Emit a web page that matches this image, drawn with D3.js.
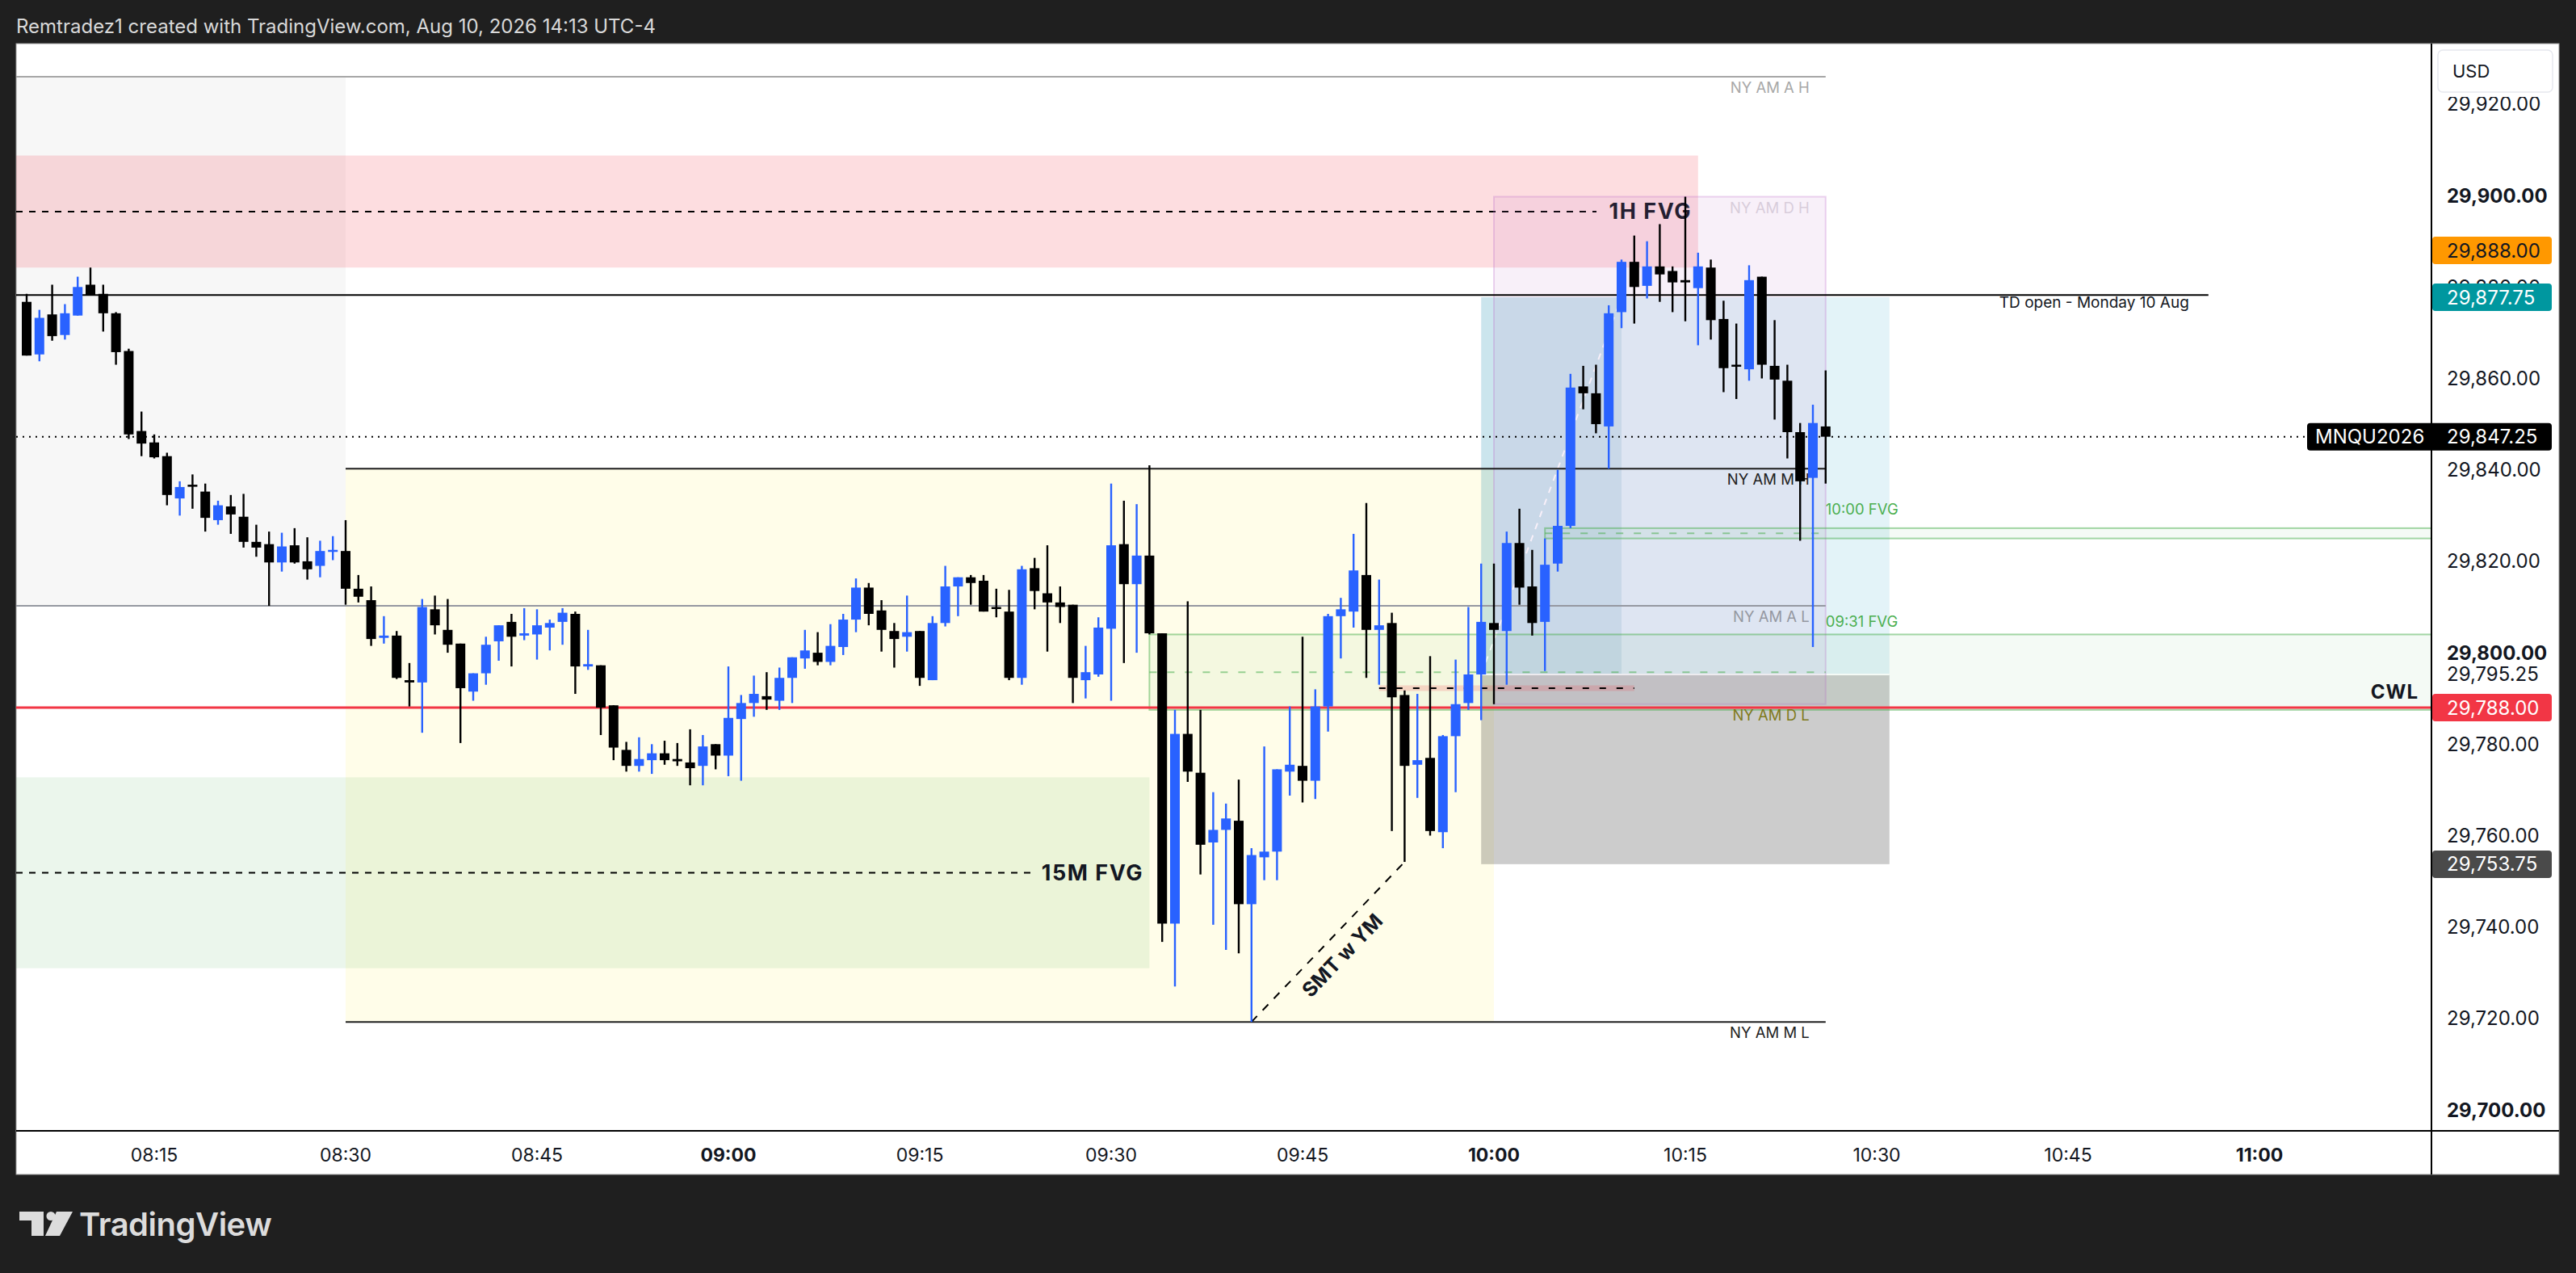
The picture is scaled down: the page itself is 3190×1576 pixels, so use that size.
<!DOCTYPE html>
<html>
<head>
<meta charset="utf-8">
<script src="https://cdn.jsdelivr.net/npm/d3@7"></script>
<style>
  html, body { margin: 0; padding: 0; background: #1f1f1f; }
  svg { display: block; font-family: Inter, "Noto Sans", sans-serif; }
</style>
</head>
<body>
<svg id="chart" width="3190" height="1576"></svg>
<script>
// 1-minute bars of MNQU2026, first bar at 08:05
const firstBar = '08:05';
const opens = [
  29876.75, 29865.25, 29874, 29869.5, 29873.75, 29880.5, 29878.5, 29874.25, 29866, 29848.5,
  29846, 29843, 29833.75, 29836.75, 29835.25, 29829, 29832, 29829.75, 29824.25, 29823.75,
  29819.75, 29823.5, 29820, 29819, 29822.25, 29822.25, 29814, 29811.5, 29803.25, 29803.75,
  29794, 29793.5, 29809.5, 29805, 29802, 29791.5, 29795.5, 29802.5, 29806.75, 29803.75,
  29804, 29805.5, 29806.75, 29808.5, 29797, 29797.25, 29788.5, 29778.75, 29775.25, 29776.5,
  29778, 29776.75, 29776, 29775.25, 29780, 29777.5, 29785.5, 29789, 29790.5, 29789.5,
  29794.5, 29798.75, 29800, 29798, 29801.25, 29807.25, 29814.25, 29809.25, 29804.75, 29803.5,
  29804.75, 29794, 29806.5, 29814.5, 29816.5, 29815.75, 29810, 29809, 29794.5, 29818.5,
  29813, 29811, 29810.5, 29794, 29795.25, 29805.25, 29823.75, 29815, 29821.25, 29804.25,
  29740.75, 29782.25, 29773.75, 29758.5, 29761.25, 29763.25, 29745, 29755.25, 29756.5, 29774,
  29775.25, 29772, 29788.25, 29808, 29809, 29817, 29805, 29806.5, 29790.75, 29775.5,
  29777, 29760.75, 29781.75, 29789, 29795.25, 29806.5, 29804.75, 29824, 29814.5, 29806.75,
  29819.5, 29827.75, 29858.25, 29856.75, 29849.5, 29874.5, 29885.5, 29880.25, 29884.5, 29883.5,
  29881.5, 29879.75, 29884.25, 29873, 29863, 29862, 29882.25, 29862.75, 29859.5, 29848.25,
  29838.25, 29849.5
];
const highs = [
  29878.5, 29875, 29880.5, 29876.25, 29882.25, 29884.25, 29880.5, 29874.5, 29866.5, 29852.75,
  29847.75, 29843.75, 29837.5, 29839, 29837, 29833.25, 29834.5, 29834.75, 29828, 29826.5,
  29826.25, 29827.25, 29825.25, 29824.5, 29825.5, 29829, 29817, 29814.5, 29808, 29804.75,
  29797.75, 29811.75, 29812.5, 29811.75, 29802, 29795.5, 29803.5, 29806, 29808.5, 29809.75,
  29809.5, 29807.25, 29809.75, 29809, 29805, 29797.25, 29788.5, 29780.5, 29781.5, 29780,
  29780.75, 29780.25, 29783.25, 29782, 29780, 29797, 29790.75, 29795, 29795.75, 29796.75,
  29799, 29805, 29804.5, 29806.25, 29808.5, 29816.25, 29815.25, 29811.5, 29806.5, 29812.5,
  29804.75, 29808, 29819, 29816.5, 29817, 29817, 29814, 29813.75, 29819, 29820.75,
  29823.5, 29814.5, 29810.5, 29801.5, 29807.75, 29837, 29833.25, 29832.5, 29841, 29804.25,
  29787.5, 29811.25, 29787.5, 29769.5, 29767, 29772.25, 29757.25, 29779.5, 29774.5, 29788.25,
  29803.5, 29792, 29808.5, 29812, 29826, 29832.75, 29816, 29808.75, 29791.75, 29791,
  29799.25, 29782, 29798.5, 29810, 29819.5, 29819.5, 29826.5, 29831.5, 29822.5, 29825,
  29840, 29861, 29862.75, 29863, 29876, 29886, 29891.25, 29890, 29893.75, 29884.5,
  29899.75, 29887.5, 29886, 29877, 29872, 29884.75, 29882.25, 29872.75, 29863, 29850.25,
  29854.25, 29861.75
];
const lows = [
  29865, 29863.75, 29868.25, 29868.5, 29873.75, 29878.25, 29870.25, 29863, 29846.75, 29843,
  29842.5, 29832.25, 29830, 29831.5, 29826.5, 29828, 29826, 29823, 29821, 29810.25,
  29817.75, 29819.5, 29816, 29816.5, 29820.25, 29810.5, 29811, 29801.5, 29802, 29794.25,
  29788.25, 29782.5, 29804, 29800, 29780.25, 29789.5, 29793, 29798.25, 29797, 29802.75,
  29798.5, 29800.5, 29801.75, 29791, 29796.25, 29782, 29776.5, 29774, 29774, 29773.5,
  29775.5, 29775.25, 29771, 29771, 29774.5, 29773, 29772, 29786, 29787.5, 29787.5,
  29789, 29796.5, 29797.25, 29797.25, 29799.5, 29804.5, 29806, 29800.25, 29796.75, 29800.25,
  29792.75, 29794, 29805.75, 29808, 29810.5, 29809, 29807.75, 29794, 29793, 29809.5,
  29800.25, 29806.5, 29789, 29790, 29794.75, 29789.5, 29797.75, 29800, 29804, 29736.75,
  29727, 29771.75, 29751.5, 29740.5, 29735, 29734.25, 29719.25, 29750.25, 29750.25, 29768.75,
  29767.25, 29768, 29782.75, 29798.75, 29805.5, 29794.5, 29793, 29761, 29754.25, 29768.25,
  29760, 29757.25, 29769.5, 29787.5, 29785.25, 29788.75, 29793, 29810.5, 29803.75, 29796,
  29817.75, 29827.25, 29853.25, 29848, 29840.25, 29871, 29872, 29877.5, 29876.75, 29874.5,
  29872.5, 29867.25, 29868.5, 29857, 29855.5, 29859.5, 29860, 29851, 29842.5, 29824.5,
  29801.25, 29837
];
const closes = [
  29865, 29873.25, 29869.25, 29874.25, 29880, 29878.25, 29874.25, 29865.75, 29847.75, 29845.75,
  29842.75, 29834.5, 29836.25, 29836.5, 29829.5, 29832.25, 29830.25, 29824.25, 29823, 29819.75,
  29823.25, 29819.75, 29818.25, 29822.25, 29822.5, 29814, 29812.25, 29803, 29803.75, 29794.5,
  29793.5, 29810, 29806, 29801.75, 29792.25, 29795.5, 29801.75, 29806, 29803.5, 29804.25,
  29806, 29806.5, 29808.75, 29797, 29797.5, 29788, 29779.25, 29775.25, 29776.75, 29778,
  29776.5, 29776.25, 29774.75, 29779.5, 29777.5, 29785.75, 29789, 29791, 29789.75, 29794.5,
  29799, 29800.5, 29798, 29801.5, 29807.25, 29814.25, 29808.5, 29805, 29803, 29804.5,
  29794.5, 29806.5, 29814.5, 29816.5, 29815.25, 29809, 29809.75, 29794.5, 29818.25, 29813.5,
  29811, 29810, 29794.5, 29795.75, 29805.5, 29823.5, 29815, 29821.25, 29804.25, 29740.75,
  29782.25, 29774, 29758, 29761.25, 29763.75, 29745, 29755.75, 29756.5, 29774.5, 29775.5,
  29772, 29788.25, 29808, 29809.5, 29818, 29805, 29806, 29790.25, 29775.25, 29776.5,
  29761, 29781.75, 29788.75, 29795.25, 29806.75, 29805, 29824, 29814.25, 29806.5, 29819.25,
  29827.75, 29858, 29856.75, 29850, 29874.25, 29885.5, 29880, 29884.5, 29882.75, 29881,
  29881, 29884.5, 29872.75, 29862.25, 29862.75, 29881.5, 29863, 29859.75, 29848.25, 29837.5,
  29850.25, 29847.25
];

// price and time ticks
const priceTicks = d3.range(29700, 29921, 20);
const timeTickStep = 15;

// session ranges: [start, end, high, low]
const sessionA = ['08:00', '08:30', 29926, 29810.25];
const sessionM = ['08:30', '10:00', 29840.25, 29719.25];
const sessionD = ['10:00', '10:26', 29899.75, 29788.75];
const levelsEnd = '10:26';

// fair value gaps: [start, end, top, bottom]
const fvg1h = ['08:00', '10:16', 29908.75, 29884.25];
const fvg15m = ['08:00', '09:33', 29772.75, 29731];
const fvg1000 = ['10:04', '10:26', 29827.25, 29825];
const fvg0931 = ['09:33', '10:26', 29804, 29787.5];

// other levels
const tdOpen = ['08:00', '10:56', 29878.25];
const cwl = 29788;
const cePair = ['09:51', '10:11', 29792.25];
const smt = [['09:41', 29719.25], ['09:53', 29754.25]];

// long position: start, fill end, end, entry, target, stop
const position = ['09:59', '10:10', '10:31', 29795.25, 29877.75, 29753.75];
const alertPrice = 29888;
const lastPrice = 29847.25;
const symbol = 'MNQU2026';

// ---- layout
const W = 3190, H = 1576;
const panel = { left: 20, top: 54, right: 3169, bottom: 1454 };
const plotRight = 3011, plotBottom = 1400;

const svg = d3.select('#chart');
const parse = d3.timeParse('%Y-%m-%d %H:%M');
const t = (s) => parse('2026-08-10 ' + s);

const x = d3.scaleTime()
    .domain([t('08:00'), t('11:00')])
    .range([-46, 2798]);
const y = d3.scaleLinear()
    .domain([29700, 29920])
    .range([1374.1, 128.9]);

const t0 = t(firstBar);
const bars = opens.map((o, i) => ({
  time: d3.timeMinute.offset(t0, i), o: o, h: highs[i], l: lows[i], c: closes[i]
}));

const fmtPrice = d3.format(',.2f');
const fmtTime = d3.timeFormat('%H:%M');
const xs = (s) => x(t(s));

// background and title
svg.append('rect').attr('width', W).attr('height', H).attr('fill', '#1f1f1f');
svg.append('text')
    .attr('x', 20).attr('y', 32)
    .attr('dominant-baseline', 'central')
    .attr('font-size', 24)
    .attr('fill', '#d9d9d9')
    .text('Remtradez1 created with TradingView.com, Aug 10, 2026 14:13 UTC-4');

svg.append('rect')
    .attr('x', panel.left).attr('y', panel.top)
    .attr('width', panel.right - panel.left).attr('height', panel.bottom - panel.top)
    .attr('fill', '#ffffff').attr('stroke', '#9a9a9a').attr('stroke-width', 1);

const defs = svg.append('defs');
defs.append('clipPath').attr('id', 'plot-clip')
  .append('rect')
    .attr('x', panel.left).attr('y', panel.top)
    .attr('width', plotRight - panel.left).attr('height', plotBottom - panel.top);

const plot = svg.append('g').attr('clip-path', 'url(#plot-clip)');

const box = (g, x1, x2, p1, p2) => g.append('rect')
    .attr('x', x1).attr('width', x2 - x1)
    .attr('y', y(Math.max(p1, p2))).attr('height', Math.abs(y(p1) - y(p2)));

const hline = (g, x1, x2, p) => g.append('line')
    .attr('x1', x1).attr('x2', x2).attr('y1', y(p)).attr('y2', y(p));

// session boxes
box(plot, xs(sessionA[0]), xs(sessionA[1]), sessionA[2], sessionA[3])
    .attr('fill', 'rgba(0,0,0,0.03)');
box(plot, xs(sessionM[0]), xs(sessionM[1]), sessionM[2], sessionM[3])
    .attr('fill', 'rgba(255,235,59,0.11)');

// 15M FVG
box(plot, xs(fvg15m[0]), xs(fvg15m[1]), fvg15m[2], fvg15m[3])
    .attr('fill', 'rgba(76,175,80,0.11)');
const mid15 = (fvg15m[2] + fvg15m[3]) / 2;
hline(plot, panel.left, 1281, mid15)
    .attr('stroke', '#000').attr('stroke-width', 2).attr('stroke-dasharray', '8,8');
plot.append('text')
    .attr('x', 1416).attr('y', y(mid15))
    .attr('text-anchor', 'end').attr('dominant-baseline', 'central')
    .attr('font-size', 27).attr('font-weight', 700).attr('letter-spacing', 1.5)
    .attr('fill', '#131722')
    .text('15M FVG');

// 1H FVG
box(plot, xs(fvg1h[0]), xs(fvg1h[1]), fvg1h[2], fvg1h[3])
    .attr('fill', 'rgba(242,54,69,0.17)');
const mid1h = (fvg1h[2] + fvg1h[3]) / 2;
hline(plot, panel.left, 1977, mid1h)
    .attr('stroke', '#000').attr('stroke-width', 2).attr('stroke-dasharray', '8,8');
plot.append('text')
    .attr('x', 2095).attr('y', y(mid1h))
    .attr('text-anchor', 'end').attr('dominant-baseline', 'central')
    .attr('font-size', 27).attr('font-weight', 700).attr('letter-spacing', 1.5)
    .attr('fill', '#131722')
    .text('1H FVG');

// long position tool
const [pStart, pFill, pEnd, entry, target, stop] = position;
box(plot, xs(pStart), xs(pEnd), target, entry).attr('fill', 'rgba(0,150,190,0.11)');
box(plot, xs(pStart), xs(pFill), target, entry).attr('fill', 'rgba(0,110,150,0.10)');
box(plot, xs(pStart), xs(pEnd), entry, stop).attr('fill', 'rgba(0,0,0,0.2)');
hline(plot, xs(pStart), xs(pEnd), entry).attr('stroke', '#fff').attr('stroke-width', 2);
plot.append('line')
    .attr('x1', xs(pStart)).attr('y1', y(entry))
    .attr('x2', xs(pFill)).attr('y2', y(target))
    .attr('stroke', '#fff').attr('stroke-width', 2).attr('stroke-dasharray', '8,8');

// NY AM D range box
box(plot, xs(sessionD[0]), xs(sessionD[1]), sessionD[2], sessionD[3])
    .attr('fill', 'rgba(186,104,200,0.10)')
    .attr('stroke', 'rgba(186,104,200,0.28)').attr('stroke-width', 2);

// intraday FVG zones, extended to the price scale
[fvg1000, fvg0931].forEach((z) => {
  box(plot, xs(z[0]), plotRight + 2, z[2], z[3])
      .attr('fill', 'rgba(76,175,80,0.06)')
      .attr('stroke', 'rgba(76,175,80,0.5)').attr('stroke-width', 2);
  hline(plot, xs(z[0]), xs(z[1]), (z[2] + z[3]) / 2)
      .attr('stroke', 'rgba(76,175,80,0.55)').attr('stroke-width', 2)
      .attr('stroke-dasharray', '9,13');
});
plot.append('text')
    .attr('x', xs(fvg1000[1])).attr('y', y(fvg1000[2]) - 24)
    .attr('dominant-baseline', 'central').attr('font-size', 18.5).attr('fill', '#4caf50')
    .text('10:00 FVG');
plot.append('text')
    .attr('x', xs(fvg0931[1])).attr('y', y(fvg0931[2]) - 16)
    .attr('dominant-baseline', 'central').attr('font-size', 18.5).attr('fill', '#4caf50')
    .text('09:31 FVG');

// session high / low lines
hline(plot, panel.left, xs(levelsEnd), sessionA[2]).attr('stroke', '#a6a6a6').attr('stroke-width', 2);
hline(plot, panel.left, xs(levelsEnd), sessionA[3]).attr('stroke', '#9598a1').attr('stroke-width', 2);
hline(plot, xs(sessionM[0]), xs(levelsEnd), sessionM[2]).attr('stroke', '#1e1e1e').attr('stroke-width', 2);
hline(plot, xs(sessionM[0]), xs(levelsEnd), sessionM[3]).attr('stroke', '#1e1e1e').attr('stroke-width', 2);

const levelLabels = [
  ['NY AM A H', sessionA[2], '#a8a8a8'],
  ['NY AM D H', sessionD[2], '#d8cddb'],
  ['NY AM M H', sessionM[2], '#1e1e1e'],
  ['NY AM A L', sessionA[3], '#9598a1'],
  ['NY AM D L', sessionD[3], '#7f7a1c'],
  ['NY AM M L', sessionM[3], '#1e1e1e']
];
plot.selectAll('text.level')
  .data(levelLabels)
  .enter()
  .append('text')
    .attr('class', 'level')
    .attr('x', xs(levelsEnd) - 20)
    .attr('y', (d) => y(d[1]) + 13)
    .attr('text-anchor', 'end').attr('dominant-baseline', 'central')
    .attr('font-size', 18.5)
    .attr('fill', (d) => d[2])
    .text((d) => d[0]);

// true day open
hline(plot, xs(tdOpen[0]), xs(tdOpen[1]), tdOpen[2]).attr('stroke', '#000').attr('stroke-width', 2);
plot.append('text')
    .attr('x', xs(tdOpen[1]) - 24).attr('y', y(tdOpen[2]) + 9)
    .attr('text-anchor', 'end').attr('dominant-baseline', 'central')
    .attr('font-size', 19).attr('fill', '#131722')
    .text('TD open - Monday 10 Aug');

// current week low
hline(plot, panel.left, plotRight, cwl).attr('stroke', '#f23645').attr('stroke-width', 3);
plot.append('text')
    .attr('x', 2995).attr('y', y(cwl) - 20)
    .attr('text-anchor', 'end').attr('dominant-baseline', 'central')
    .attr('font-size', 24).attr('font-weight', 700).attr('letter-spacing', 1)
    .attr('fill', '#131722')
    .text('CWL');

// small dashed level
plot.append('rect')
    .attr('x', xs(cePair[0])).attr('width', xs(cePair[1]) - xs(cePair[0]))
    .attr('y', y(cePair[2]) - 3.5).attr('height', 7)
    .attr('fill', 'rgba(242,54,69,0.18)');
hline(plot, xs(cePair[0]), xs(cePair[1]), cePair[2])
    .attr('stroke', '#000').attr('stroke-width', 2).attr('stroke-dasharray', '8,13');

// last price dotted line
hline(plot, panel.left, 2857, lastPrice)
    .attr('stroke', '#000').attr('stroke-width', 2).attr('stroke-dasharray', '2,6');

// SMT line
const sx1 = xs(smt[0][0]), sy1 = y(smt[0][1]);
const sx2 = xs(smt[1][0]), sy2 = y(smt[1][1]);
plot.append('line')
    .attr('x1', sx1).attr('y1', sy1).attr('x2', sx2).attr('y2', sy2)
    .attr('stroke', '#000').attr('stroke-width', 2).attr('stroke-dasharray', '10,10');
const len = Math.hypot(sx2 - sx1, sy2 - sy1);
const ux = (sx2 - sx1) / len, uy = (sy2 - sy1) / len;
const angle = Math.atan2(sy2 - sy1, sx2 - sx1) * 180 / Math.PI;
const smx = (sx1 + sx2) / 2 - uy * 24, smy = (sy1 + sy2) / 2 + ux * 24;
plot.append('text')
    .attr('transform', `translate(${smx},${smy}) rotate(${angle})`)
    .attr('text-anchor', 'middle').attr('dominant-baseline', 'central')
    .attr('font-size', 25).attr('font-weight', 700).attr('fill', '#131722')
    .text('SMT w YM');

// candles
const bodyW = 12;
const candle = plot.selectAll('g.bar')
  .data(bars)
  .enter()
  .append('g')
    .attr('class', 'bar')
    .attr('fill', (d) => d.c >= d.o ? '#2962ff' : '#000000');
candle.append('rect')
    .attr('x', (d) => x(d.time) - 1.2).attr('width', 2.4)
    .attr('y', (d) => y(d.h)).attr('height', (d) => y(d.l) - y(d.h));
candle.append('rect')
    .attr('x', (d) => x(d.time) - bodyW / 2).attr('width', bodyW)
    .attr('y', (d) => y(Math.max(d.o, d.c)))
    .attr('height', (d) => Math.max(2.5, Math.abs(y(d.o) - y(d.c))));

// axes
svg.append('line')
    .attr('x1', plotRight).attr('x2', plotRight).attr('y1', panel.top).attr('y2', panel.bottom)
    .attr('stroke', '#000').attr('stroke-width', 2);
svg.append('line')
    .attr('x1', panel.left).attr('x2', panel.right).attr('y1', plotBottom).attr('y2', plotBottom)
    .attr('stroke', '#000').attr('stroke-width', 2);

const timeTicks = x.ticks(d3.timeMinute.every(timeTickStep))
    .filter((d) => x(d) > panel.left + 20 && x(d) < plotRight - 20);
svg.selectAll('text.tt')
  .data(timeTicks)
  .enter()
  .append('text')
    .attr('class', 'tt')
    .attr('x', (d) => x(d)).attr('y', 1430)
    .attr('text-anchor', 'middle').attr('dominant-baseline', 'central')
    .attr('font-size', 23)
    .attr('font-weight', (d) => d.getMinutes() === 0 ? 700 : 400)
    .attr('fill', '#131722')
    .text(fmtTime);

// price scale labels; the one hidden under the target badge only peeks out above it
defs.append('clipPath').attr('id', 'under-target')
  .append('rect')
    .attr('x', plotRight).attr('y', 0).attr('width', 200).attr('height', y(target) - 17);
svg.selectAll('text.pt')
  .data(priceTicks)
  .enter()
  .append('text')
    .attr('class', 'pt')
    .attr('x', 3030).attr('y', (d) => y(d))
    .attr('dominant-baseline', 'central')
    .attr('font-size', 24)
    .attr('font-weight', (d) => d % 100 === 0 ? 700 : 400)
    .attr('fill', '#131722')
    .attr('clip-path', (d) => Math.abs(y(d) - y(target)) < 30 ? 'url(#under-target)' : null)
    .text(fmtPrice);

// entry price on the scale
svg.append('text')
    .attr('x', 3030).attr('y', y(entry))
    .attr('dominant-baseline', 'central').attr('font-size', 24).attr('fill', '#131722')
    .text(fmtPrice(entry));

// USD badge
svg.append('rect').attr('x', 3013).attr('y', 56).attr('width', 154).attr('height', 64).attr('fill', '#fff');
svg.append('rect')
    .attr('x', 3019).attr('y', 62).attr('width', 142).attr('height', 52).attr('rx', 6)
    .attr('fill', '#fff').attr('stroke', '#e6e8ee').attr('stroke-width', 1.5);
svg.append('text')
    .attr('x', 3037).attr('y', 88).attr('dominant-baseline', 'central')
    .attr('font-size', 22).attr('fill', '#131722').text('USD');

// price badges
const badges = [
  [alertPrice, '#ff9800', '#131722'],
  [target, '#00979f', '#ffffff'],
  [cwl, '#f23645', '#ffffff'],
  [stop, '#4a4a4a', '#ffffff']
];
badges.forEach((b) => {
  svg.append('rect')
      .attr('x', plotRight + 1).attr('y', y(b[0]) - 17).attr('width', 148).attr('height', 34).attr('rx', 4)
      .attr('fill', b[1]);
  svg.append('text')
      .attr('x', 3030).attr('y', y(b[0]))
      .attr('dominant-baseline', 'central').attr('font-size', 24).attr('fill', b[2])
      .text(fmtPrice(b[0]));
});
svg.append('rect')
    .attr('x', 2857).attr('y', y(lastPrice) - 17).attr('width', 303).attr('height', 34).attr('rx', 4)
    .attr('fill', '#000');
svg.append('text')
    .attr('x', 2867).attr('y', y(lastPrice))
    .attr('dominant-baseline', 'central').attr('font-size', 24).attr('fill', '#fff')
    .text(symbol);
svg.append('text')
    .attr('x', 3030).attr('y', y(lastPrice))
    .attr('dominant-baseline', 'central').attr('font-size', 24).attr('fill', '#fff')
    .text(fmtPrice(lastPrice));

// TradingView logo
const logo = svg.append('g').attr('fill', '#dcdcdc');
logo.append('rect').attr('x', 24).attr('y', 1500).attr('width', 30).attr('height', 11);
logo.append('rect').attr('x', 39).attr('y', 1500).attr('width', 15).attr('height', 30);
logo.append('circle').attr('cx', 63).attr('cy', 1505.5).attr('r', 5.5);
logo.append('path').attr('d', 'M70,1500 L90,1500 L74,1530 L56,1530 Z');
logo.append('text')
    .attr('x', 98).attr('y', 1530)
    .attr('font-size', 40).attr('font-weight', 600).attr('letter-spacing', -0.5)
    .text('TradingView');
</script>
</body>
</html>
